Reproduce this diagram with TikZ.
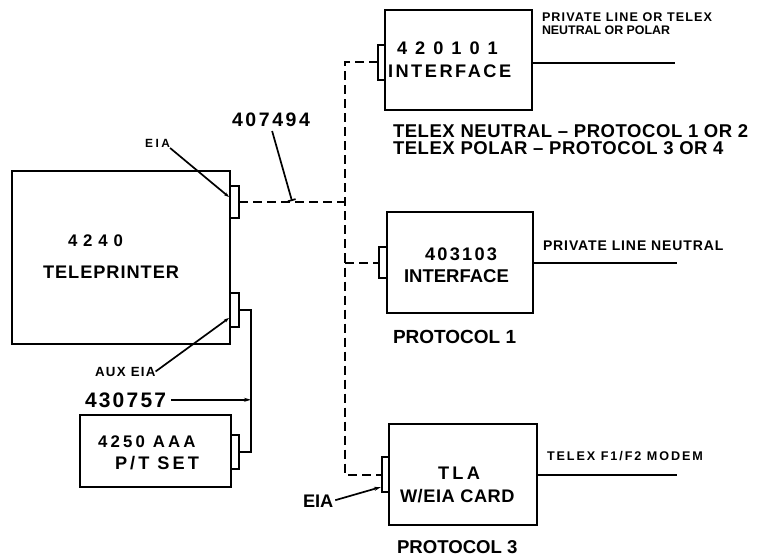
\documentclass[tikz,border=0pt]{standalone}
\usepackage{fontspec}
\setmainfont{Liberation Sans}
\usetikzlibrary{arrows.meta}
\begin{document}
\begin{tikzpicture}[x=1pt,y=-1pt,
 box/.style={draw, line width=2.3pt, inner sep=0pt, outer sep=0pt, anchor=north west},
 conn/.style={draw, line width=1.6pt, inner sep=0pt, outer sep=0pt, anchor=north west},
 wire/.style={line width=1.9pt},
 dwire/.style={line width=2pt, dash pattern=on 9pt off 5pt},
 lead/.style={line width=1.7pt},
 ler/.style 2 args={inner sep=0pt, outer sep=0pt, anchor=base west, font={\fontsize{#1}{#1}\bfseries\selectfont\addfontfeatures{LetterSpace=#2}}},
 hvy/.style 2 args={inner sep=0pt, outer sep=0pt, anchor=base west, font={\fontsize{#1}{#1}\bfseries\selectfont\addfontfeatures{LetterSpace=#2}}},
]
\useasboundingbox (0,0) rectangle (763,556);

% boxes
\node[box, minimum width=218pt, minimum height=173pt] (tp) at (12,171) {};
\node[box, minimum width=151pt, minimum height=72pt] (pt) at (80,415) {};
\node[box, minimum width=147pt, minimum height=100pt] (b420) at (385,10) {};
\node[box, minimum width=146pt, minimum height=101pt] (b403) at (387,212) {};
\node[box, minimum width=148pt, minimum height=101pt] (btla) at (389,424) {};

% connectors
\node[conn, minimum width=9pt, minimum height=32pt] (tpc1) at (230,186) {};
\node[conn, minimum width=9pt, minimum height=34pt] (tpc2) at (230,293) {};
\node[conn, minimum width=8pt, minimum height=34pt] (ptc) at (231,435) {};
\node[conn, minimum width=7pt, minimum height=35pt] (c420) at (378,45) {};
\node[conn, minimum width=8pt, minimum height=31pt] (c403) at (379,247) {};
\node[conn, minimum width=7pt, minimum height=35pt] (ctla) at (382,457) {};

% helper coordinates
\coordinate (bx) at (345,0);
\coordinate (ax) at (251,0);
\coordinate (o420) at (675,63);
\coordinate (o403) at (677,263);
\coordinate (otla) at (677,475);
\coordinate (eia1end) at (229,197);
\coordinate (auxend) at (229,318);
\coordinate (t407) at (292,201);
\coordinate (eia2end) at (381,487);

% cables
\draw[dwire] (c420.west) -- (c420.west -| bx) -- (ctla.west -| bx) -- (ctla.west);
\draw[dwire] (tpc1.east) -- (tpc1.east -| bx);
\draw[dwire] (c403.west -| bx) -- (c403.west);
\draw[wire] (tpc2.east) -- (tpc2.east -| ax) -- (ptc.east -| ax) -- (ptc.east);
\draw[wire] (o420 -| b420.east) -- (o420);
\draw[wire] (o403 -| b403.east) -- (o403);
\draw[wire] (otla -| btla.east) -- (otla);

% labels
\node[hvy={11.9}{22}] (eia1) at (145,148) {EIA};
\node[ler={19.5}{13.3}] (l407) at (232,127) {407494};
\node[ler={16.8}{35}] (l4240) at (68,247) {4240};
\node[ler={18.2}{5.3}] (ltele) at (43,278) {TELEPRINTER};
\node[hvy={13.3}{10}] (laux) at (95,376) {AUX EIA};
\node[ler={21}{10.5}] (l430) at (85,407) {430757};
\node[ler={16.8}{19}] (l4250) at (98,447) {4250 AAA};
\node[ler={18.2}{16.7}] (lpt) at (115,469) {P/T SET};
\node[ler={18.2}{44}] (l420) at (397,55) {420101};
\node[ler={18.2}{13.8}] (li420) at (388,78) {INTERFACE};
\node[hvy={12.6}{8.7}] (lpl1) at (542,22) {PRIVATE LINE OR TELEX};
\node[hvy={12.4}{0}] (lpl2) at (542,35) {NEUTRAL OR POLAR};
\node[hvy={18.5}{3}] (ltn) at (393,138) {TELEX NEUTRAL – PROTOCOL 1 OR 2};
\node[hvy={18.5}{3}] (ltp) at (393,155) {TELEX POLAR – PROTOCOL 3 OR 4};
\node[ler={18.2}{12.4}] (l403) at (425,260) {403103};
\node[ler={18.5}{0}] (li403) at (404,282) {INTERFACE};
\node[hvy={14}{6.4}] (lpln) at (543,251) {PRIVATE LINE NEUTRAL};
\node[hvy={19}{0}] (lp1) at (393,343) {PROTOCOL 1};
\node[ler={18.2}{18}] (ltla) at (438,479) {TLA};
\node[ler={18.2}{3}] (lweia) at (400,502) {W/EIA CARD};
\node[hvy={12.6}{15.4}] (lf1) at (547,460) {TELEX F1/F2 MODEM};
\node[hvy={18.6}{0}] (lp3) at (397,553) {PROTOCOL 3};
\node[ler={18.2}{0}] (eia2) at (303,507) {EIA};

% leaders
\draw[lead, -{Stealth[length=5pt,width=3.5pt]}] (eia1.south east) -- (eia1end);
\draw[lead, -{Stealth[length=5pt,width=3.5pt]}] (laux.east) -- (auxend);
\draw[lead, -{Bar[width=8pt]}, shorten <=4pt] (l407.south) -- (t407);
\draw[lead, -{Stealth[length=7pt,width=4pt]}, shorten <=5pt] (l430.east) -- (l430.east -| ax);
\draw[lead, -{Stealth[length=7pt,width=4pt]}, shorten <=2pt] (eia2.east) -- (eia2end);
\end{tikzpicture}
\end{document}
